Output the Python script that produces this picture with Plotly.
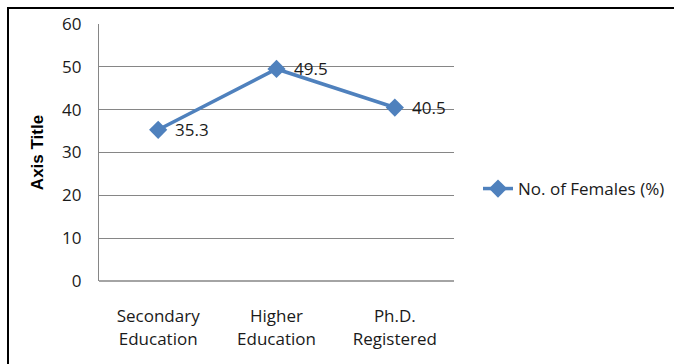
import plotly.graph_objects as go

categories = ["Secondary<br>Education", "Higher<br>Education", "Ph.D.<br>Registered"]
females_pct = [35.3, 49.5, 40.5]
y_ticks = [0, 10, 20, 30, 40, 50, 60]
series_name = "No. of Females (%)"

W, H = 674, 364
L, R, T, B = 99, 220, 24, 83
pw, ph = W - L - R, H - T - B

def px_x(p):
    return (p - L) / pw

def px_y(p):
    return (H - B - p) / ph

label_font = dict(family="Open Sans, sans-serif", size=17, color="#1a1a1a")
blue = "#4F81BD"

fig = go.Figure()
fig.add_trace(go.Scatter(
    x=categories,
    y=females_pct,
    mode="lines+markers",
    name=series_name,
    line=dict(color=blue, width=3.5),
    marker=dict(symbol="diamond", size=14, color=blue),
    cliponaxis=False,
))

# value labels placed just right of each point
for cat, v in zip(categories, females_pct):
    fig.add_annotation(
        x=cat, y=v, text=f"{v:.1f}", showarrow=False,
        xanchor="left", yanchor="middle", xshift=15,
        font=label_font,
    )

fig.update_layout(
    width=W, height=H,
    margin=dict(l=L, r=R, t=T, b=B, autoexpand=False),
    paper_bgcolor="white",
    plot_bgcolor="white",
    showlegend=True,
    legend=dict(
        x=px_x(478), y=px_y(189), xanchor="left", yanchor="middle",
        font=label_font, bgcolor="rgba(0,0,0,0)",
    ),
    xaxis=dict(
        type="category",
        range=[-0.5, 2.5],
        showgrid=False,
        showline=False,
        zeroline=False,
        ticks="outside", ticklen=20, tickcolor="rgba(0,0,0,0)",
        tickfont=label_font,
    ),
    yaxis=dict(
        range=[0, 60],
        tickvals=y_ticks,
        showgrid=True, gridcolor="#868686", gridwidth=1.3,
        zeroline=False,
        showline=True, linecolor="#868686", linewidth=1.3,
        ticks="outside", ticklen=13, tickcolor="rgba(0,0,0,0)",
        tickfont=label_font,
        title=dict(text="<b>Axis Title</b>", standoff=14,
                   font=dict(family="Liberation Sans, Arial, sans-serif", size=17, color="#000000")),
    ),
    shapes=[
        dict(type="line", xref="x", yref="paper", x0=-0.5, x1=2.5, y0=0, y1=0,
             line=dict(color="#868686", width=1.3), layer="below"),
        dict(type="rect", xref="paper", yref="paper",
             x0=px_x(8), x1=px_x(W + 10), y0=px_y(8), y1=px_y(H + 10),
             line=dict(color="#000000", width=2), fillcolor="rgba(0,0,0,0)"),
    ],
)

fig.write_html("out.html")
